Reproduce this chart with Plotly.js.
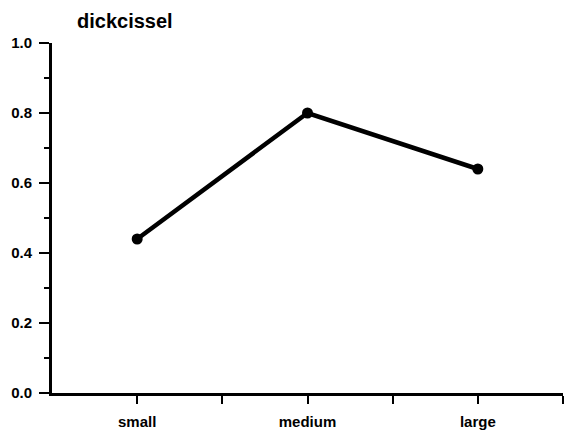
<!DOCTYPE html>
<html>
<head>
<meta charset="utf-8">
<script src="https://cdn.plot.ly/plotly-3.0.1.min.js"></script>
<style>html,body{margin:0;padding:0;background:#fff;}#chart{width:564px;height:433px;}</style>
</head>
<body>
<div id="chart"></div>
<script>
var categories = ['small', 'medium', 'large'];
var values = [0.44, 0.80, 0.64];
var titleText = 'dickcissel';
var yTickVals = [0, 0.2, 0.4, 0.6, 0.8, 1.0];
var yTickText = ['0.0', '0.2', '0.4', '0.6', '0.8', '1.0'];

var xIdx = categories.map(function (c, i) { return i; });
var xTickVals = [], xTickText = [];
categories.forEach(function (c, i) {
  xTickVals.push(i); xTickText.push(c);
  xTickVals.push(i + 0.5); xTickText.push('');
});

var font = 'Liberation Sans, Arial, sans-serif';

Plotly.newPlot('chart', [{
  x: xIdx,
  y: values,
  type: 'scatter',
  mode: 'lines+markers',
  line: {color: '#000', width: 4.5},
  marker: {color: '#000', size: 11},
  hoverinfo: 'skip'
}], {
  width: 564, height: 433,
  margin: {l: 52, r: 1, t: 43, b: 40},
  paper_bgcolor: '#fff', plot_bgcolor: '#fff',
  showlegend: false,
  title: {text: titleText, font: {family: font, size: 20, color: '#000', weight: 'bold'},
          xref: 'container', yref: 'container', x: 77/564, xanchor: 'left', y: 1 - 21/433, yanchor: 'middle'},
  xaxis: {
    range: [-0.5, categories.length - 0.5],
    tickmode: 'array', tickvals: xTickVals, ticktext: xTickText,
    ticks: 'outside', ticklen: 8, tickwidth: 2, tickcolor: '#000',
    showline: true, linecolor: '#000', linewidth: 3,
    showgrid: false, zeroline: false,
    ticklabelstandoff: 5,
    tickfont: {family: font, size: 15, color: '#000', weight: 'bold'}
  },
  yaxis: {
    range: [0, 1],
    tickmode: 'array', tickvals: yTickVals, ticktext: yTickText,
    ticks: 'outside', ticklen: 10, tickwidth: 2, tickcolor: '#000',
    minor: {dtick: 0.1, ticks: 'outside', ticklen: 5, tickwidth: 2, tickcolor: '#000', showgrid: false},
    showline: true, linecolor: '#000', linewidth: 3,
    showgrid: false, zeroline: false,
    ticklabelstandoff: 4,
    tickfont: {family: font, size: 15, color: '#000', weight: 'bold'}
  }
}, {staticPlot: true, displayModeBar: false});
</script>
</body>
</html>
